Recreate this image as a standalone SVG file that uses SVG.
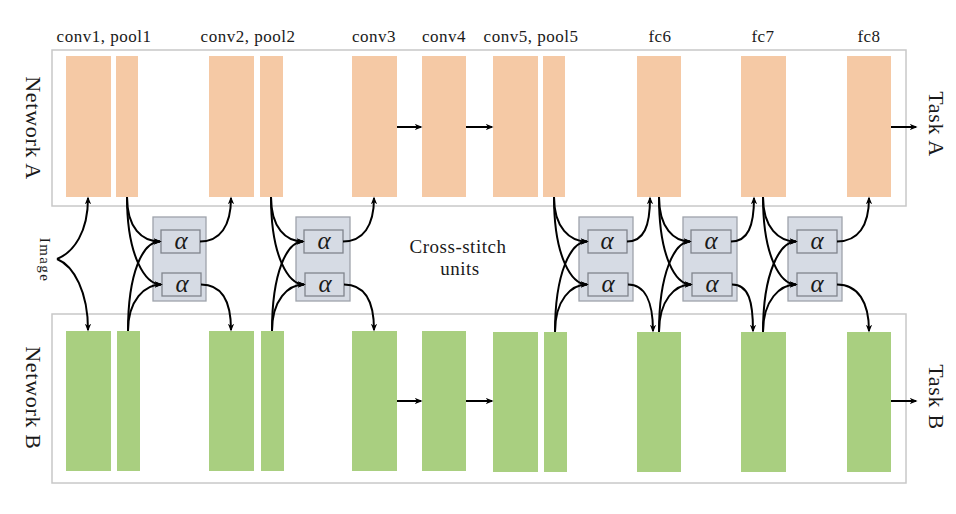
<svg xmlns="http://www.w3.org/2000/svg" width="956" height="514" viewBox="0 0 956 514">
<style>
.frame{fill:#fff;stroke:#c8c8c8;stroke-width:1.5}
.a{fill:#f5c9a5}
.b{fill:#a9cf80}
.unit{fill:#d6dbe4;stroke:#9ea3ab;stroke-width:1.3}
.inner{fill:#d6dbe4;stroke:#80858d;stroke-width:1.3}
.lbl{font-family:"Liberation Serif","DejaVu Serif",serif;font-size:17px;letter-spacing:0.5px;fill:#1a1a1a;text-anchor:middle}
.big{font-family:"Liberation Serif","DejaVu Serif",serif;font-size:22px;letter-spacing:0.7px;fill:#1a1a1a;text-anchor:middle}
.alpha{font-family:"Liberation Serif","DejaVu Serif",serif;font-style:italic;font-size:25px;fill:#1a1a1a;text-anchor:middle}
.c{fill:none;stroke:#000;stroke-width:2;marker-end:url(#ah)}
</style>
<defs>
<marker id="ah" viewBox="0 0 10 8" refX="8" refY="4" markerWidth="8" markerHeight="6.5" markerUnits="userSpaceOnUse" orient="auto">
<path d="M0,0 L10,4 L0,8 L3,4 z" fill="#000"/>
</marker>
</defs>
<rect width="956" height="514" fill="#fff"/>

<g id="networkA">
<rect class="frame" x="52" y="50" width="854" height="156"/>
<text class="big" transform="translate(26,128) rotate(90)">Network A</text>
</g>
<g id="networkB">
<rect class="frame" x="52" y="314" width="854" height="169"/>
<text class="big" transform="translate(26,398) rotate(90)">Network B</text>
</g>

<g id="labels">
<text class="lbl" x="104" y="42">conv1, pool1</text>
<text class="lbl" x="248" y="42">conv2, pool2</text>
<text class="lbl" x="374" y="42">conv3</text>
<text class="lbl" x="444" y="42">conv4</text>
<text class="lbl" x="531" y="42">conv5, pool5</text>
<text class="lbl" x="660" y="42">fc6</text>
<text class="lbl" x="763" y="42">fc7</text>
<text class="lbl" x="869" y="42">fc8</text>
</g>

<g id="layersA">
<rect id="conv1A" class="a" x="66" y="56" width="45" height="141"/>
<rect id="pool1A" class="a" x="116" y="56" width="22" height="141"/>
<rect id="conv2A" class="a" x="209" y="56" width="45" height="141"/>
<rect id="pool2A" class="a" x="260" y="56" width="23" height="141"/>
<rect id="conv3A" class="a" x="352" y="56" width="45" height="141"/>
<rect id="conv4A" class="a" x="422" y="56" width="44" height="141"/>
<rect id="conv5A" class="a" x="493" y="56" width="45" height="141"/>
<rect id="pool5A" class="a" x="543" y="56" width="22" height="141"/>
<rect id="fc6A" class="a" x="637" y="56" width="44" height="141"/>
<rect id="fc7A" class="a" x="741" y="56" width="45" height="141"/>
<rect id="fc8A" class="a" x="847" y="56" width="44" height="141"/>
</g>

<g id="layersB">
<rect id="conv1B" class="b" x="66" y="331" width="45" height="140"/>
<rect id="pool1B" class="b" x="117" y="331" width="23" height="140"/>
<rect id="conv2B" class="b" x="209" y="331" width="45" height="140"/>
<rect id="pool2B" class="b" x="261" y="331" width="23" height="140"/>
<rect id="conv3B" class="b" x="352" y="331" width="45" height="140"/>
<rect id="conv4B" class="b" x="422" y="331" width="44" height="140"/>
<rect id="conv5B" class="b" x="493" y="332" width="45" height="140"/>
<rect id="pool5B" class="b" x="544" y="332" width="23" height="140"/>
<rect id="fc6B" class="b" x="637" y="332" width="44" height="140"/>
<rect id="fc7B" class="b" x="741" y="332" width="45" height="140"/>
<rect id="fc8B" class="b" x="847" y="332" width="44" height="140"/>
</g>

<g id="unit1">
<rect class="unit" x="153" y="217" width="53" height="84"/>
<rect class="inner" x="161" y="230" width="39" height="23"/>
<rect class="inner" x="162" y="273" width="39" height="23"/>
<text class="alpha" x="181" y="249">α</text>
<text class="alpha" x="182" y="292">α</text>
</g>
<g id="unit2">
<rect class="unit" x="296" y="217" width="54" height="84"/>
<rect class="inner" x="304" y="230" width="39" height="23"/>
<rect class="inner" x="305" y="273" width="39" height="23"/>
<text class="alpha" x="324" y="249">α</text>
<text class="alpha" x="325" y="292">α</text>
</g>
<g id="unit3">
<rect class="unit" x="579" y="217" width="54" height="84"/>
<rect class="inner" x="588" y="230" width="39" height="23"/>
<rect class="inner" x="588" y="273" width="40" height="23"/>
<text class="alpha" x="607" y="249">α</text>
<text class="alpha" x="608" y="292">α</text>
</g>
<g id="unit4">
<rect class="unit" x="683" y="217" width="54" height="84"/>
<rect class="inner" x="691" y="230" width="40" height="23"/>
<rect class="inner" x="692" y="273" width="40" height="23"/>
<text class="alpha" x="711" y="249">α</text>
<text class="alpha" x="712" y="292">α</text>
</g>
<g id="unit5">
<rect class="unit" x="788" y="217" width="54" height="84"/>
<rect class="inner" x="797" y="230" width="40" height="23"/>
<rect class="inner" x="797" y="273" width="40" height="23"/>
<text class="alpha" x="817" y="249">α</text>
<text class="alpha" x="817" y="292">α</text>
</g>

<g id="image">
<text class="lbl" style="font-size:15px;letter-spacing:1.4px" transform="translate(40,260) rotate(90)">Image</text>
</g>
<g id="crossStitchLabel">
<text class="lbl" style="font-size:19px" x="458" y="253">Cross-stitch</text>
<text class="lbl" style="font-size:19px" x="460" y="275">units</text>
</g>
<g id="tasks">
<text class="big" transform="translate(929,124) rotate(90)">Task A</text>
<text class="big" transform="translate(929,397) rotate(90)">Task B</text>
</g>

<g id="connectors">
<path class="c" d="M57,259 C74,252 88,232 88,198"/>
<path class="c" d="M57,259 C74,266 88,292 88,330"/>
<path class="c" d="M127,197 C127,228 142,241.5 160,241.5"/>
<path class="c" d="M127,197 C127,258 146,284.5 161,284.5"/>
<path class="c" d="M128,331 C128,272 143,241.5 160,241.5"/>
<path class="c" d="M128,331 C128,300 145,284.5 161,284.5"/>
<path class="c" d="M200,241.5 C220,241.5 231,226 231,198"/>
<path class="c" d="M201,284.5 C221,284.5 231,300 231,330"/>
<path class="c" d="M271,197 C271,228 286,241.5 303,241.5"/>
<path class="c" d="M271,197 C271,258 289,284.5 304,284.5"/>
<path class="c" d="M272,331 C272,272 287,241.5 303,241.5"/>
<path class="c" d="M272,331 C272,300 288,284.5 304,284.5"/>
<path class="c" d="M343,241.5 C363,241.5 374,226 374,198"/>
<path class="c" d="M344,284.5 C364,284.5 374,300 374,330"/>
<path class="c" d="M397,127 L421,127"/>
<path class="c" d="M466,127 L492,127"/>
<path class="c" d="M397,401 L421,401"/>
<path class="c" d="M466,401 L492,401"/>
<path class="c" d="M554,197 C554,228 570,241.5 587,241.5"/>
<path class="c" d="M554,197 C554,258 572,284.5 587,284.5"/>
<path class="c" d="M555,332 C555,272 571,241.5 587,241.5"/>
<path class="c" d="M555,332 C555,300 571,284.5 587,284.5"/>
<path class="c" d="M627,241.5 C644,241.5 650,226 650,198"/>
<path class="c" d="M628,284.5 C645,284.5 653,302 653,331"/>
<path class="c" d="M659,197 C659,228 674,241.5 690,241.5"/>
<path class="c" d="M659,197 C659,258 676,284.5 691,284.5"/>
<path class="c" d="M659,332 C659,272 675,241.5 690,241.5"/>
<path class="c" d="M659,332 C659,300 675,284.5 691,284.5"/>
<path class="c" d="M731,241.5 C748,241.5 754,226 754,198"/>
<path class="c" d="M732,284.5 C749,284.5 753,302 753,331"/>
<path class="c" d="M763,197 C763,228 779,241.5 796,241.5"/>
<path class="c" d="M763,197 C763,258 781,284.5 796,284.5"/>
<path class="c" d="M763,332 C763,272 780,241.5 796,241.5"/>
<path class="c" d="M763,332 C763,300 780,284.5 796,284.5"/>
<path class="c" d="M837,241.5 C858,241.5 869,226 869,198"/>
<path class="c" d="M837,284.5 C858,284.5 869,302 869,331"/>
<path class="c" d="M891,127 L916,127"/>
<path class="c" d="M891,401 L916,401"/>
</g>
</svg>
